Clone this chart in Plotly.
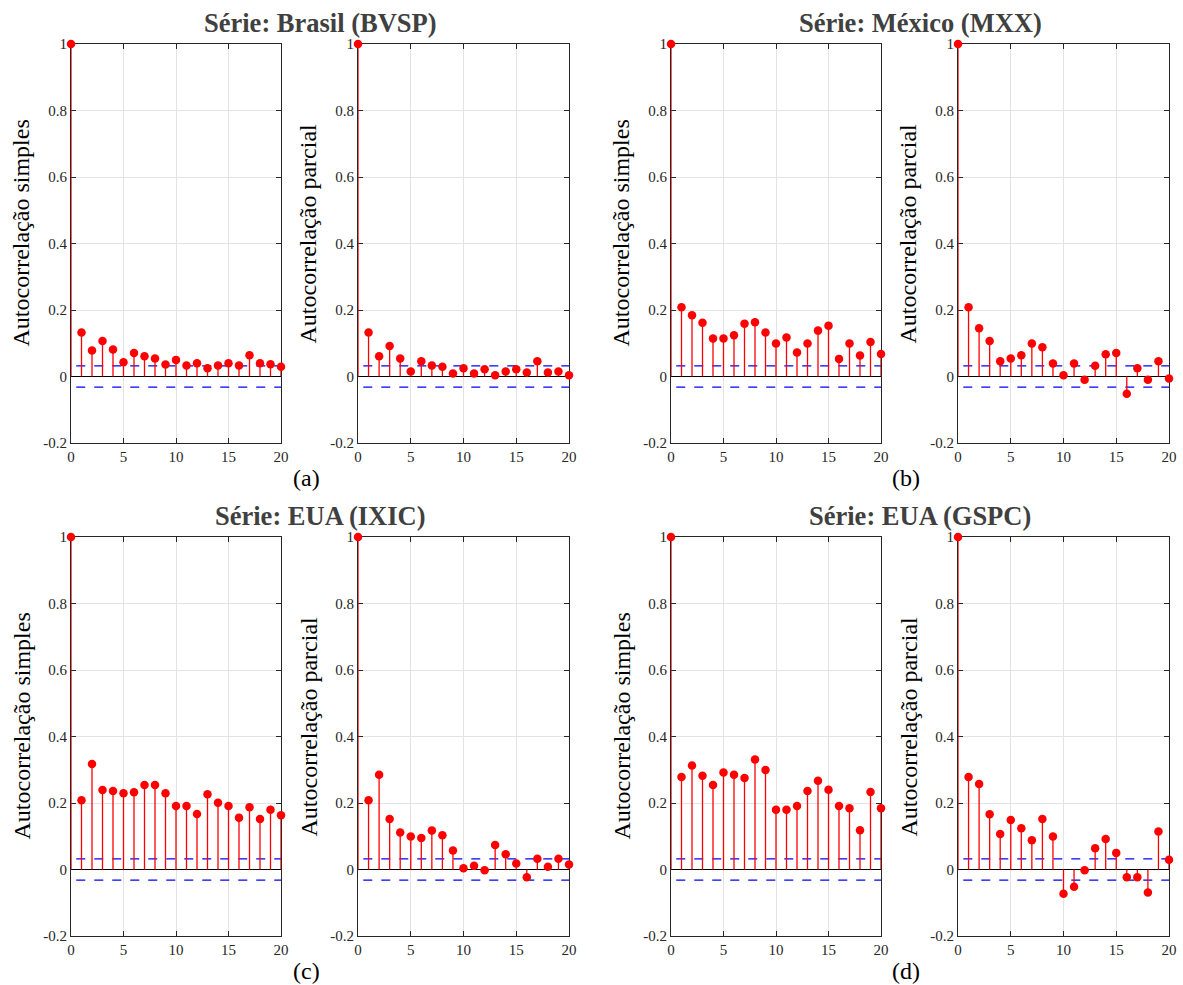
import plotly.graph_objects as go

lags = list(range(21))
conf_bound = 0.032

acf_bvsp = [1, 0.132, 0.078, 0.107, 0.081, 0.043, 0.071, 0.061, 0.054, 0.036, 0.050,
            0.033, 0.040, 0.025, 0.033, 0.040, 0.033, 0.064, 0.040, 0.037, 0.029]
pacf_bvsp = [1, 0.132, 0.061, 0.092, 0.054, 0.015, 0.046, 0.033, 0.029, 0.009, 0.025,
             0.009, 0.022, 0.004, 0.015, 0.022, 0.012, 0.046, 0.012, 0.015, 0.004]
acf_mxx = [1, 0.208, 0.184, 0.162, 0.114, 0.114, 0.124, 0.159, 0.163, 0.132, 0.099,
           0.117, 0.072, 0.099, 0.138, 0.153, 0.053, 0.099, 0.063, 0.104, 0.068]
pacf_mxx = [1, 0.208, 0.145, 0.107, 0.046, 0.054, 0.064, 0.099, 0.088, 0.039, 0.004,
            0.039, -0.010, 0.032, 0.067, 0.071, -0.052, 0.025, -0.010, 0.046, -0.006]
acf_ixic = [1, 0.208, 0.317, 0.239, 0.236, 0.229, 0.232, 0.254, 0.254, 0.229, 0.191,
            0.191, 0.167, 0.226, 0.201, 0.191, 0.156, 0.187, 0.152, 0.180, 0.163]
pacf_ixic = [1, 0.208, 0.285, 0.152, 0.111, 0.099, 0.095, 0.117, 0.103, 0.057, 0.004,
             0.011, -0.002, 0.074, 0.046, 0.018, -0.023, 0.032, 0.008, 0.032, 0.015]
acf_gspc = [1, 0.278, 0.313, 0.282, 0.254, 0.292, 0.285, 0.275, 0.331, 0.299, 0.180,
            0.180, 0.191, 0.236, 0.267, 0.240, 0.191, 0.184, 0.118, 0.233, 0.184]
pacf_gspc = [1, 0.278, 0.257, 0.166, 0.107, 0.149, 0.124, 0.088, 0.152, 0.099, -0.073,
             -0.052, -0.002, 0.064, 0.092, 0.050, -0.023, -0.023, -0.069, 0.114, 0.029]

titles = ["Série: Brasil (BVSP)", "Série: México (MXX)", "Série: EUA (IXIC)", "Série: EUA (GSPC)"]
letters = ["(a)", "(b)", "(c)", "(d)"]
ylabels = ["Autocorrelação simples", "Autocorrelação parcial"]
yticks = [-0.2, 0, 0.2, 0.4, 0.6, 0.8, 1]
yticklabels = ["-0.2", "0", "0.2", "0.4", "0.6", "0.8", "1"]
xticks = [0, 5, 10, 15, 20]

series = [acf_bvsp, pacf_bvsp, acf_mxx, pacf_mxx, acf_ixic, pacf_ixic, acf_gspc, pacf_gspc]

W, H = 1183, 985
FONT = "Liberation Serif"
xpix = [(71, 281), (358, 569), (671, 881), (958, 1169)]
ypix = [(44, 443), (537, 936)]

fig = go.Figure()
layout = dict(width=W, height=H, margin=dict(l=0, r=0, t=0, b=0, autoexpand=False),
              paper_bgcolor="white", plot_bgcolor="white", showlegend=False,
              font=dict(family=FONT, size=15, color="#262626"))
annotations = []

for i, vals in enumerate(series):
    row = i // 4
    col = i % 4
    n = i + 1
    xa = "x" if n == 1 else f"x{n}"
    ya = "y" if n == 1 else f"y{n}"
    xk = "xaxis" if n == 1 else f"xaxis{n}"
    yk = "yaxis" if n == 1 else f"yaxis{n}"
    x0, x1 = xpix[col]
    y0, y1 = ypix[row]
    layout[xk] = dict(domain=[x0 / W, x1 / W], anchor=ya, range=[0, 20],
                      tickvals=xticks, ticks="inside", ticklen=5, tickcolor="#262626",
                      showline=True, linecolor="#262626", linewidth=1, mirror="ticks",
                      showgrid=True, gridcolor="#e3e3e3", gridwidth=1,
                      zeroline=False, layer="below traces", automargin=False,
                      tickfont=dict(family=FONT, size=15, color="#262626"))
    layout[yk] = dict(domain=[1 - y1 / H, 1 - y0 / H], anchor=xa, range=[-0.2, 1],
                      tickvals=yticks, ticktext=yticklabels, ticks="inside", ticklen=5,
                      tickcolor="#262626", showline=True, linecolor="#262626", linewidth=1,
                      mirror="ticks", showgrid=True, gridcolor="#e3e3e3", gridwidth=1,
                      zeroline=False, layer="below traces", automargin=False,
                      tickfont=dict(family=FONT, size=15, color="#262626"))
    # zero baseline
    fig.add_trace(go.Scatter(x=[lags[0], lags[-1]], y=[0, 0], mode="lines",
                             line=dict(color="black", width=1.2), xaxis=xa, yaxis=ya,
                             hoverinfo="skip"))
    # confidence bounds
    for b in (conf_bound, -conf_bound):
        fig.add_trace(go.Scatter(x=[lags[0] + 0.5, lags[-1]], y=[b, b], mode="lines",
                                 line=dict(color="blue", width=1.2, dash="dash"),
                                 xaxis=xa, yaxis=ya, hoverinfo="skip"))
    # stems
    sx, sy = [], []
    for k, v in zip(lags, vals):
        sx += [k, k, None]
        sy += [0, v, None]
    fig.add_trace(go.Scatter(x=sx, y=sy, mode="lines", line=dict(color="red", width=1.3),
                             xaxis=xa, yaxis=ya, cliponaxis=False, hoverinfo="skip"))
    fig.add_trace(go.Scatter(x=lags, y=vals, mode="markers",
                             marker=dict(color="red", size=8.5, line=dict(width=0)),
                             xaxis=xa, yaxis=ya, cliponaxis=False))
    # y label
    annotations.append(dict(text=ylabels[col % 2], textangle=-90, xref="paper", yref="paper",
                            x=(x0 - 50) / W, y=1 - ((y0 + y1) / 2 - 10) / H,
                            xanchor="center", yanchor="middle", showarrow=False,
                            font=dict(family=FONT, size=24, color="black")))

for g in range(4):
    row = g // 2
    c = (g % 2) * 2
    xl = xpix[c][0]
    xr = xpix[c + 1][1]
    cx = (xl + xr) / 2
    ty = ypix[row][0] - 21
    annotations.append(dict(text="<b>" + titles[g] + "</b>", xref="paper", yref="paper",
                            x=cx / W, y=1 - ty / H, xanchor="center", yanchor="middle",
                            showarrow=False, font=dict(family=FONT, size=26.5, color="#404040")))
    ly = ypix[row][1] + 35
    lx = xpix[c][1] + 25
    annotations.append(dict(text=letters[g], xref="paper", yref="paper",
                            x=lx / W, y=1 - ly / H, xanchor="center", yanchor="middle",
                            showarrow=False, font=dict(family=FONT, size=24, color="black")))

layout["annotations"] = annotations
fig.update_layout(**layout)
fig.write_html("out.html", config={"displayModeBar": False},
               post_script="document.body.style.margin='0';document.body.style.overflow='hidden';")
